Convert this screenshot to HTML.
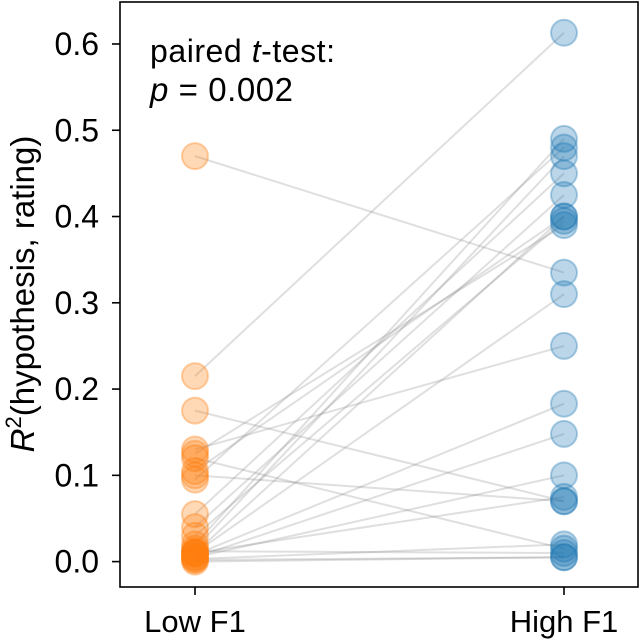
<!DOCTYPE html>
<html><head><meta charset="utf-8"><style>
body{margin:0;background:#fff;}
svg{display:block;font-family:"Liberation Sans",sans-serif;}
</style></head><body>
<svg id="chart" width="640" height="642">
<rect x="120" y="2" width="518" height="585" fill="none" stroke="#000" stroke-width="1.6"/>
<g id="lines"></g><g id="pts"></g><g id="axes"></g>
<text x="150" y="62" font-size="32" textLength="185">paired <tspan font-style="italic">t</tspan>-test:</text>
<text x="150" y="101" font-size="33" textLength="143"><tspan font-style="italic">p</tspan> = 0.002</text>
<text transform="translate(34,294) rotate(-90)" text-anchor="middle" font-size="33"><tspan font-style="italic">R</tspan><tspan font-size="22" dy="-13">2</tspan><tspan dy="13">(hypothesis, rating)</tspan></text>
</svg>
<script>
const categories = ["Low F1", "High F1"];
const lowValues  = [0.47, 0.215, 0.175, 0.13, 0.12, 0.125, 0.105, 0.095, 0.055, 0.04, 0.03, 0.02, 0.015, 0.01, 0.01, 0.008, 0.005, 0.005, 0.01, 0.003, 0.002, 0.012, 0.0, 0.1];
const highValues = [0.335, 0.613, 0.07, 0.25, 0.015, 0.39, 0.40, 0.48, 0.45, 0.425, 0.395, 0.49, 0.47, 0.40, 0.31, 0.183, 0.148, 0.10, 0.075, 0.02, 0.005, 0.01, 0.005, 0.07];
const yTicks = [0.0, 0.1, 0.2, 0.3, 0.4, 0.5, 0.6];
const NS = "http://www.w3.org/2000/svg";
function y(v){ return 561.6 - v * 862.7; }
function x(i){ return 195 + i * 369; }
const gl = document.getElementById('lines'), gp = document.getElementById('pts'), ga = document.getElementById('axes');
function mk(tag, attrs, parent){ const e = document.createElementNS(NS, tag); for (const k in attrs) e.setAttribute(k, attrs[k]); parent.appendChild(e); return e; }
lowValues.forEach((lv, i) => {
  const l = mk('line', {x1: x(0), y1: y(lv), x2: x(1), y2: y(highValues[i]), stroke: 'rgba(128,128,128,0.25)', 'stroke-width': 2}, gl);
  
  
});
lowValues.forEach(v => {
  const c = mk('circle', {cx: x(0), cy: y(v), r: 13, fill: 'rgba(255,127,14,0.3)', stroke: 'rgba(255,127,14,0.35)', 'stroke-width': 2}, gp);
  
  
});
highValues.forEach(v => {
  const c = mk('circle', {cx: x(1), cy: y(v), r: 13, fill: 'rgba(31,119,180,0.3)', stroke: 'rgba(31,119,180,0.35)', 'stroke-width': 2}, gp);
  
  
});
yTicks.forEach(t => {
  const tk = mk('line', {x1: 112, x2: 120, y1: y(t), y2: y(t), stroke: '#000', 'stroke-width': 1.6}, ga);
  
  
  const tx = mk('text', {x: 99, y: y(t) + 11, 'text-anchor': 'end', 'font-size': 32}, ga);
  tx.textContent = t.toFixed(1);
  
  
});
categories.forEach((c, i) => {
  const tk = mk('line', {x1: x(i), x2: x(i), y1: 587, y2: 595, stroke: '#000', 'stroke-width': 1.6}, ga);
  
  
  const tx = mk('text', {x: x(i), y: 632, 'text-anchor': 'middle', 'font-size': 31}, ga);
  tx.textContent = c;
  
  
});
</script>
</body></html>
